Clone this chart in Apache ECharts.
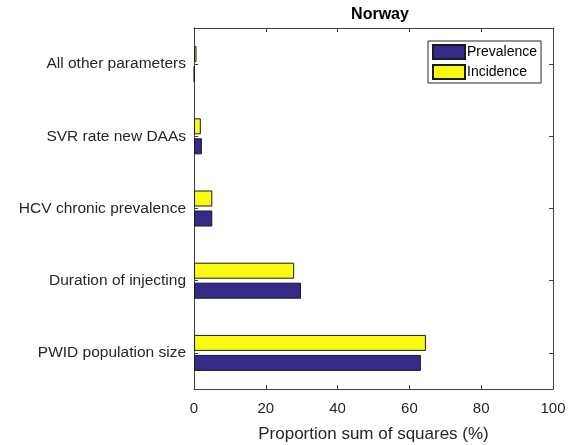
<!DOCTYPE html>
<html>
<head>
<meta charset="utf-8">
<script src="https://cdn.jsdelivr.net/npm/echarts@6/dist/echarts.min.js"></script>
<style>
  html, body { margin: 0; padding: 0; background: #fff; }
  #chart { width: 569px; height: 445px; }
</style>
</head>
<body>
<div id="chart"></div>
<script>
// Sensitivity analysis: share of sum of squares per parameter (bottom to top)
const parameters = [
  'PWID population size',
  'Duration of injecting',
  'HCV chronic prevalence',
  'SVR rate new DAAs',
  'All other parameters'
];
const prevalence = [63.2, 29.8, 5.1, 2.2, 0.1];
const incidence = [64.6, 27.9, 5.1, 1.9, 0.7];
const xTicks = [0, 20, 40, 60, 80, 100];

const FONT = '"Liberation Sans", Arial, sans-serif';
const INK = '#262626';
const AXIS = '#404040';

// tick marks at the centre of each category band (band i spans [i, i+1])
const bandCentres = parameters.map((_, i) => i + 0.5);

const chart = echarts.init(document.getElementById('chart'), null, { renderer: 'canvas' });

const boxLine = { show: true, onZero: false, lineStyle: { color: AXIS, width: 1 } };
const insideTick = { show: true, inside: true, length: 4, lineStyle: { color: AXIS, width: 1 } };

function bandTickAxis(position) {
  return {
    type: 'value', position: position,
    min: 0, max: parameters.length,
    axisLine: boxLine,
    axisTick: Object.assign({}, insideTick, { customValues: bandCentres }),
    axisLabel: { show: false },
    splitLine: { show: false }
  };
}

chart.setOption({
  animation: false,
  backgroundColor: '#fff',
  title: {
    text: 'Norway',
    left: 375, top: 2, textAlign: 'center',
    textStyle: { fontFamily: FONT, fontSize: 16, fontWeight: 'bold', color: '#000' }
  },
  legend: {
    orient: 'vertical',
    left: 428, top: 41,
    icon: 'rect',
    itemWidth: 32, itemHeight: 14, itemGap: 4,
    padding: [3, 4, 3, 4],
    borderColor: INK, borderWidth: 1,
    backgroundColor: '#fff',
    textStyle: { fontFamily: FONT, fontSize: 14, color: '#000', padding: [0, 0, 0, -3] },
    data: ['Prevalence', 'Incidence']
  },
  grid: { left: 194, top: 28, width: 359, height: 361, show: false, outerBoundsMode: 'none' },
  xAxis: [
    {
      type: 'value', min: xTicks[0], max: xTicks[xTicks.length - 1], interval: 20,
      position: 'bottom',
      name: 'Proportion sum of squares (%)',
      nameLocation: 'middle', nameGap: 37, nameMoveOverlap: false,
      nameTextStyle: { fontFamily: FONT, fontSize: 17, color: INK },
      axisLine: boxLine,
      axisTick: insideTick,
      axisLabel: { fontFamily: FONT, fontSize: 15, color: INK, margin: 12 },
      splitLine: { show: false }
    },
    {
      type: 'value', min: xTicks[0], max: xTicks[xTicks.length - 1], interval: 20,
      position: 'top',
      axisLine: boxLine,
      axisTick: insideTick,
      axisLabel: { show: false },
      splitLine: { show: false }
    }
  ],
  yAxis: [
    {
      type: 'category', data: parameters, position: 'left',
      axisLine: boxLine,
      axisTick: { show: false },
      axisLabel: { fontFamily: FONT, fontSize: 15.5, color: INK, margin: 8 },
      splitLine: { show: false }
    },
    bandTickAxis('left'),
    bandTickAxis('right')
  ],
  series: [
    {
      name: 'Incidence', type: 'bar', data: incidence,
      xAxisIndex: 0, yAxisIndex: 0,
      barWidth: 16, barGap: '25%',
      itemStyle: { color: '#F9FB0E', borderColor: '#1a1a1a', borderWidth: 1 }
    },
    {
      name: 'Prevalence', type: 'bar', data: prevalence,
      xAxisIndex: 0, yAxisIndex: 0,
      barWidth: 16, barGap: '25%',
      itemStyle: { color: '#352A87', borderColor: '#1a1a1a', borderWidth: 1 }
    }
  ]
});
</script>
</body>
</html>
